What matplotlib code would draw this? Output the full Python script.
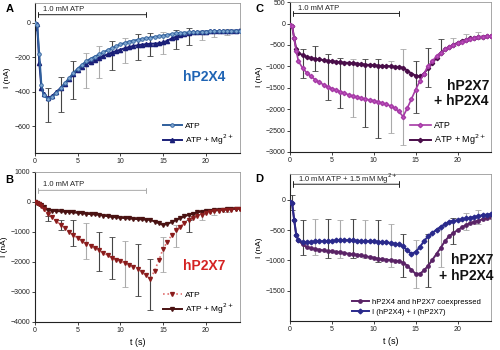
import numpy as np
import matplotlib.pyplot as plt

plt.rcParams['font.family'] = ['Liberation Sans', 'DejaVu Sans']

# sample times (s)
t = [0, 0.25, 0.5, 0.75, 1.0] + list(np.arange(1.5, 24.01, 0.5))

# panel A - hP2X4
a_atp = [0, -10, -180, -360, -420, -440, -430, -405, -380, -350, -320, -290, -265, -243,
         -222, -208, -195, -183, -170, -158, -146, -135, -125, -116, -109, -103, -98, -93,
         -89, -85, -81, -77, -73, -69, -65, -61, -58, -56, -55, -53, -52, -51, -50, -49,
         -49, -48, -47, -47, -46, -45, -45]
a_mg = [-30, -5, -230, -380, -410, -435, -425, -400, -378, -352, -325, -297, -275, -258,
        -240, -225, -213, -202, -192, -182, -172, -163, -155, -147, -140, -134, -130, -126,
        -123, -121, -120, -118, -113, -103, -90, -80, -71, -64, -58, -55, -53, -51, -50,
        -49, -48, -48, -47, -46, -45, -44, -43]
a_err_t = [1.5, 3, 4.5, 6, 7.5, 9, 10.5, 12, 13.5, 15, 16.5, 18, 19.5, 21, 22.5]
a_err_hi = [-380, -311, -223, -175, -136, -107, -87, -62, -58, -52, -39, -29, -45, -39, -35]
a_err_lo = [-577, -517, -443, -379, -320, -272, -233, -214, -194, -179, -151, -126, -97, -82, -68]
a_err_dark = [1, 1, 1, 0, 0, 1, 0, 1, 1, 0, 1, 1, 0, 0, 0]

# panel B - hP2X7
b_atp = [0, -30, -80, -150, -250, -400, -520, -640, -770, -880, -1000, -1105, -1200, -1300,
         -1390, -1460, -1540, -1610, -1690, -1780, -1860, -1920, -1980, -2040, -2100, -2165,
         -2230, -2320, -2440, -2570, -2290, -1950, -1555, -1330, -1105, -935, -820, -710,
         -600, -540, -485, -425, -370, -340, -315, -295, -280, -265, -255, -245, -237]
b_mg = [0, -30, -60, -110, -160, -280, -295, -305, -315, -325, -338, -350, -365, -380,
        -395, -408, -418, -430, -455, -478, -500, -515, -528, -540, -552, -563, -575, -585,
        -592, -600, -655, -710, -770, -730, -675, -600, -540, -485, -430, -390, -350, -325,
        -305, -292, -280, -270, -260, -250, -240, -232, -225]
b_err_t = [1.5, 3, 4.5, 6, 7.5, 9, 10.5, 12, 13.5, 15, 16.5, 18, 19.5, 21, 22.5]
b_err_hi = [-485, -600, -600, -710, -990, -1160, -1300, -1410, -1895, -1160, -770, -600, -400, -300, -230]
b_err_lo = [-650, -935, -1465, -1895, -2290, -2570, -2850, -3135, -3585, -2345, -1500, -990, -600, -450, -330]
b_err_dark = [1, 1, 1, 0, 1, 1, 0, 1, 1, 0, 0, 1, 0, 0, 0]

# panel C - hP2X7 + hP2X4
c_atp = [-40, -55, -350, -640, -880, -1040, -1150, -1235, -1310, -1375, -1430, -1478, -1520,
         -1555, -1590, -1630, -1665, -1695, -1720, -1743, -1765, -1785, -1805, -1832, -1860,
         -1890, -1925, -1980, -2055, -2175, -1980, -1765, -1545, -1350, -1170, -1000, -880,
         -760, -685, -605, -550, -505, -465, -425, -385, -355, -330, -315, -305, -297, -290]
c_mg = [-30, -50, -350, -600, -685, -740, -780, -805, -825, -840, -855, -868, -880, -893,
        -905, -913, -920, -928, -935, -948, -960, -968, -975, -983, -990, -995, -1000, -1008,
        -1015, -1035, -1100, -1170, -1215, -1235, -1170, -1035, -920, -800, -685, -605, -550,
        -500, -450, -410, -375, -350, -330, -315, -305, -297, -290]
c_err_t = [1.5, 3, 4.5, 6, 7.5, 9, 10.5, 12, 13.5, 15, 16.5, 18, 19.5, 21, 22.5]
c_err_hi = [-605, -525, -720, -800, -840, -840, -840, -880, -605, -880, -565, -370, -330, -255, -200]
c_err_lo = [-1270, -1115, -1780, -1980, -2175, -2410, -2685, -2565, -2840, -2100, -1485, -685, -520, -410, -370]
c_err_dark = [1, 1, 1, 1, 0, 1, 1, 0, 0, 1, 1, 1, 0, 0, 0]

# panel D - coexpressed vs sum
d_co = [-40, -55, -330, -585, -665, -735, -780, -797, -810, -823, -835, -843, -850, -858,
        -865, -878, -890, -898, -905, -918, -930, -943, -955, -968, -980, -988, -995, -1003,
        -1010, -1035, -1085, -1155, -1220, -1220, -1165, -1085, -990, -890, -790, -680, -600,
        -545, -500, -455, -415, -385, -360, -340, -320, -300, -280]
d_sum = [-30, -55, -330, -585, -665, -695, -695, -690, -685, -683, -680, -678, -675, -670,
         -665, -665, -665, -670, -675, -678, -680, -683, -685, -690, -695, -703, -710, -722,
         -735, -765, -835, -890, -860, -780, -680, -600, -545, -490, -445, -400, -360, -345,
         -335, -320, -305, -292, -280, -265, -250, -242, -235]
d_err_t = [0.25, 1.5, 3, 4.5, 6, 7.5, 9, 10.5, 12, 13.5, 15, 16.5, 18, 19.5, 21, 22.5]
d_err_hi = [85, -335, -320, -320, -330, -320, -330, -330, -390, -565, -665, -555, -455, -305, -220, -165]
d_err_lo = [-165, -915, -915, -955, -955, -955, -955, -1030, -1110, -1280, -1455, -1445, -1110, -720, -490, -390]
d_err_dark = [1, 1, 0, 1, 0, 1, 0, 1, 0, 1, 0, 1, 0, 1, 0, 0]

fig = plt.figure(figsize=(5, 3.5), dpi=100)
axA = fig.add_axes([0.07, 0.563, 0.41, 0.428])
axB = fig.add_axes([0.07, 0.08, 0.41, 0.429])
axC = fig.add_axes([0.58, 0.566, 0.402, 0.428])
axD = fig.add_axes([0.58, 0.083, 0.402, 0.42])


# common axis styling, Excel-like frame
def style(ax, ylim, yticks, xlabel=False):
    ax.set_xlim(0, 24)
    ax.set_ylim(*ylim)
    ax.set_xticks([0, 5, 10, 15, 20])
    ax.set_yticks(yticks)
    ax.tick_params(labelsize=5, length=2, width=0.6, pad=1.5, colors='#222222')
    for s in ['left', 'bottom']:
        ax.spines[s].set_color('#222222')
        ax.spines[s].set_linewidth(0.8)
    for s in ['top', 'right']:
        ax.spines[s].set_color('#999999')
        ax.spines[s].set_linewidth(0.6)
    ax.set_ylabel('I (nA)', fontsize=6, labelpad=2)
    if xlabel:
        ax.set_xlabel('t (s)', fontsize=6.5, labelpad=3)


def errbars(ax, et, hi, lo, dark):
    et = np.array(et); hi = np.array(hi); lo = np.array(lo); dark = np.array(dark, bool)
    for m, col in [(dark, '#444444'), (~dark, '#aaaaaa')]:
        ax.errorbar(et[m], (hi[m] + lo[m]) / 2, yerr=(hi[m] - lo[m]) / 2, fmt='none',
                    ecolor=col, elinewidth=0.8, capsize=2, capthick=0.6, zorder=1)


def bracket(ax, y, ty, text, col):
    ax.annotate('', xy=(13, y), xytext=(0.4, y),
                arrowprops=dict(arrowstyle='|-|', color=col, lw=0.7, mutation_scale=2,
                                shrinkA=0, shrinkB=0))
    ax.text(0.9, ty, text, fontsize=5.5, color='#222222', va='center')


# A
errbars(axA, a_err_t, a_err_hi, a_err_lo, a_err_dark)
axA.plot(t, a_atp, '-o', color='#2f5f9c', mfc='#7fa6d0', ms=2.6, lw=1.4, mew=0.6, label='ATP', zorder=3)
axA.plot(t, a_mg, '-^', color='#1a1f78', ms=3, lw=1.4, label='ATP + Mg$^{2+}$', zorder=2)
style(axA, (-755, 115), [0, -200, -400, -600])
bracket(axA, 48, 80, '1.0 mM ATP', '#222222')
axA.text(0.93, 0.51, 'hP2X4', transform=axA.transAxes, ha='right', va='center',
         fontsize=10, fontweight='bold', color='#1f64b4')
axA.legend(loc='lower right', frameon=False, fontsize=6, handlelength=2.3,
           handletextpad=0.4, labelspacing=0.3, borderaxespad=0.3)

# B
errbars(axB, b_err_t, b_err_hi, b_err_lo, b_err_dark)
axB.plot(t, b_atp, ':v', color='#e07070', mfc='#8a1c1c', mec='#8a1c1c', ms=2.8, lw=1.2, label='ATP', zorder=3)
axB.plot(t, b_mg, '-v', color='#4a1212', ms=2.8, lw=1.4, label='ATP + Mg$^{2+}$', zorder=2)
style(axB, (-4000, 1000), [1000, 0, -1000, -2000, -3000, -4000], xlabel=True)
bracket(axB, 383, 585, '1.0 mM ATP', '#aaaaaa')
axB.text(0.93, 0.37, 'hP2X7', transform=axB.transAxes, ha='right', va='center',
         fontsize=10, fontweight='bold', color='#d42222')
axB.legend(loc='lower right', frameon=False, fontsize=6, handlelength=2.3,
           handletextpad=0.4, labelspacing=0.3, borderaxespad=0.3)

# C
errbars(axC, c_err_t, c_err_hi, c_err_lo, c_err_dark)
axC.plot(t, c_atp, '-D', color='#a53aa5', mfc='#c050c0', ms=2.2, lw=1.2, label='ATP', zorder=3)
axC.plot(t, c_mg, '-D', color='#4a0e4a', ms=2.2, lw=1.4, label='ATP + Mg$^{2+}$', zorder=2)
style(axC, (-3000, 500), [500, 0, -500, -1000, -1500, -2000, -2500, -3000])
bracket(axC, 235, 340, '1.0 mM ATP', '#222222')
axC.text(0.99, 0.39, 'hP2X7\n+ hP2X4', transform=axC.transAxes, ha='right', va='center',
         fontsize=10, fontweight='bold', color='#111111', linespacing=1.1)
axC.legend(loc='lower right', frameon=False, fontsize=6.5, handlelength=2.3,
           handletextpad=0.4, labelspacing=0.3, borderaxespad=0.1)

# D
errbars(axD, d_err_t, d_err_hi, d_err_lo, d_err_dark)
axD.plot(t, d_co, '-o', color='#5a2366', ms=2.4, lw=1.4, label='hP2X4 and hP2X7 coexpressed', zorder=2)
axD.plot(t, d_sum, '-D', color='#2a2a8c', ms=2.4, lw=1.4, label='I (hP2X4) + I (hP2X7)', zorder=3)
style(axD, (-2000, 430), [0, -500, -1000, -1500], xlabel=True)
bracket(axD, 260, 345, '1.0 mM ATP + 1.5 mM Mg$^{2+}$', '#222222')
axD.text(1.01, 0.36, 'hP2X7\n+ hP2X4', transform=axD.transAxes, ha='right', va='center',
         fontsize=10, fontweight='bold', color='#111111', linespacing=1.1)
axD.legend(loc='lower left', bbox_to_anchor=(0.28, 0.0), frameon=False, fontsize=5.5,
           handlelength=2.3, handletextpad=0.4, labelspacing=0.3, borderaxespad=0.3)

# panel letters
for x, y, s in [(0.012, 0.975, 'A'), (0.01, 0.485, 'B'), (0.51, 0.975, 'C'), (0.51, 0.49, 'D')]:
    fig.text(x, y, s, fontsize=8, fontweight='bold', va='center')

fig.savefig('out.png', dpi=100)
